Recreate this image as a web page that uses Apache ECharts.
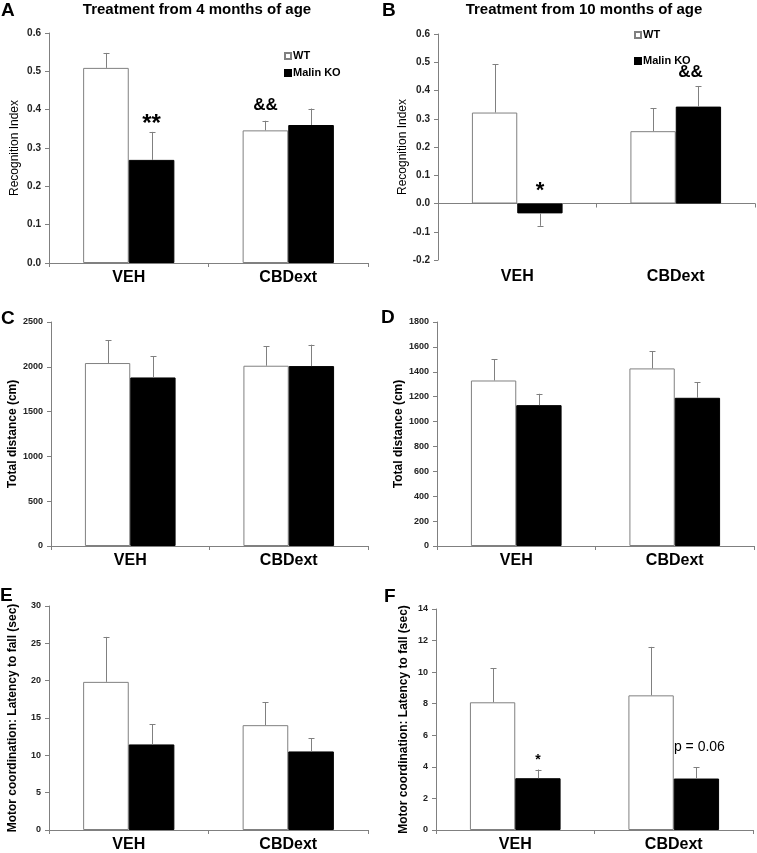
<!DOCTYPE html>
<html><head><meta charset="utf-8">
<script src="https://cdn.jsdelivr.net/npm/echarts@6/dist/echarts.min.js"></script>
<style>html,body{margin:0;padding:0;background:#fff}#c{width:757px;height:853px}</style>
</head><body><div id="c"></div>
<script>
// ---------------- data ----------------
const categories = ['VEH', 'CBDext'];
const seriesNames = ['WT', 'Malin KO'];

// Panel A: Recognition Index, treatment from 4 months
const wtA = [0.509, 0.346], wtAErr = [0.039, 0.025];
const koA = [0.269, 0.360], koAErr = [0.073, 0.043];
const ticksA = [0.0, 0.1, 0.2, 0.3, 0.4, 0.5, 0.6];
const annA = [{cat: 0, grp: 1, text: '**'}, {cat: 1, grp: 0, text: '&&'}];

// Panel B: Recognition Index, treatment from 10 months
const wtB = [0.322, 0.256], wtBErr = [0.171, 0.082];
const koB = [-0.035, 0.343], koBErr = [0.044, 0.073];
const ticksB = [-0.2, -0.1, 0.0, 0.1, 0.2, 0.3, 0.4, 0.5, 0.6];
const annB = [{cat: 0, grp: 1, text: '*'}, {cat: 1, grp: 1, text: '&&'}];

// Panel C: Total distance (cm)
const wtC = [2042, 2012], wtCErr = [253, 216];
const koC = [1881, 2008], koCErr = [235, 239];
const ticksC = [0, 500, 1000, 1500, 2000, 2500];

// Panel D: Total distance (cm)
const wtD = [1330, 1427], wtDErr = [169, 139];
const koD = [1132, 1191], koDErr = [91, 126];
const ticksD = [0, 200, 400, 600, 800, 1000, 1200, 1400, 1600, 1800];

// Panel E: Latency to fall (sec)
const wtE = [19.84, 14.04], wtEErr = [6.02, 3.08];
const koE = [11.46, 10.52], koEErr = [2.72, 1.78];
const ticksE = [0, 5, 10, 15, 20, 25, 30];

// Panel F: Latency to fall (sec)
const wtF = [8.09, 8.53], wtFErr = [2.15, 3.07];
const koF = [3.28, 3.26], koFErr = [0.55, 0.71];
const ticksF = [0, 2, 4, 6, 8, 10, 12, 14];
const annF = [{cat: 0, grp: 1, text: '*'}, {cat: 1, grp: 1, text: 'p = 0.06'}];

const panelLetters = ['A', 'B', 'C', 'D', 'E', 'F'];
const panelTitles = ['Treatment from 4 months of age', 'Treatment from 10 months of age'];
const yNames = ['Recognition Index', 'Total distance (cm)', 'Motor coordination: Latency to fall (sec)'];

// ---------------- layout / style ----------------
const FF = '"Liberation Sans", Arial, sans-serif';
const NF = '"Liberation Sans Narrow", "Liberation Sans", Arial, sans-serif';
const GRAY = '#808080';

const panels = [
  {wt: wtA, wtE: wtAErr, ko: koA, koE: koAErr, ticks: ticksA, dec: 1, name: yNames[0], nameW: 'normal', nameGap: 28,
   grid: {left: 49, top: 33, width: 319, height: 230}, ann: annA,
   annStyle: [{font: 'bold 24px ' + FF, gap: 8, dx: 0}, {font: 'bold 17px ' + FF, gap: 15, dx: 0}], tickFs: 10},
  {wt: wtB, wtE: wtBErr, ko: koB, koE: koBErr, ticks: ticksB, dec: 1, name: yNames[0], nameW: 'normal', nameGap: 28,
   grid: {left: 438, top: 34, width: 317, height: 226}, ann: annB, zeroLine: true,
   annStyle: [{font: 'bold 22px ' + FF, gap: 13, dx: 0}, {font: 'bold 17px ' + FF, gap: 14, dx: -8}], tickFs: 10},
  {wt: wtC, wtE: wtCErr, ko: koC, koE: koCErr, ticks: ticksC, dec: 0, name: yNames[1], nameW: 'bold', nameGap: 30,
   grid: {left: 51, top: 322, width: 317, height: 224}, tickFs: 9},
  {wt: wtD, wtE: wtDErr, ko: koD, koE: koDErr, ticks: ticksD, dec: 0, name: yNames[1], nameW: 'bold', nameGap: 30,
   grid: {left: 437, top: 322, width: 317, height: 224}, tickFs: 9},
  {wt: wtE, wtE: wtEErr, ko: koE, koE: koEErr, ticks: ticksE, dec: 0, name: yNames[2], nameW: 'bold', nameGap: 30,
   grid: {left: 49, top: 606, width: 319, height: 224}, tickFs: 9},
  {wt: wtF, wtE: wtFErr, ko: koF, koE: koFErr, ticks: ticksF, dec: 0, name: yNames[2], nameW: 'bold', nameGap: 26,
   grid: {left: 436, top: 609, width: 317, height: 222}, ann: annF,
   annStyle: [{font: 'bold 14px ' + FF, gap: 9, dx: 0}, {font: '14px ' + FF, gap: 20, dx: 3}], tickFs: 9}
];

const BAR_FRAC = 0.286;
const grids = [], xAxes = [], yAxes = [], series = [];

panels.forEach((p, i) => {
  grids.push(Object.assign({containLabel: false}, p.grid));
  const xMain = xAxes.length;
  xAxes.push({
    type: 'category', gridIndex: i, data: categories,
    axisLine: {show: true, onZero: !!p.zeroLine, lineStyle: {color: GRAY, width: 1}},
    axisTick: {show: true, length: 4, inside: false, lineStyle: {color: GRAY}},
    axisLabel: {show: !p.zeroLine, fontFamily: FF, fontWeight: 'bold', fontSize: 16, color: '#000', margin: 7},
    splitLine: {show: false}
  });
  if (p.zeroLine) {
    xAxes.push({
      type: 'category', gridIndex: i, data: categories, position: 'bottom',
      axisLine: {show: false, onZero: false}, axisTick: {show: false},
      axisLabel: {show: true, fontFamily: FF, fontWeight: 'bold', fontSize: 16, color: '#000', margin: 9},
      splitLine: {show: false}
    });
  }
  const t = p.ticks;
  yAxes.push({
    type: 'value', gridIndex: i, min: t[0], max: t[t.length - 1], interval: t[1] - t[0],
    axisLine: {show: true, lineStyle: {color: GRAY, width: 1}},
    axisTick: {show: true, length: 4, lineStyle: {color: GRAY}},
    splitLine: {show: false},
    axisLabel: {fontFamily: NF, fontWeight: 'bold', fontSize: p.tickFs, color: '#222', margin: 8,
      formatter: v => (Math.abs(v) < 1e-9 ? 0 : v).toFixed(p.dec)},
    name: p.name, nameLocation: 'middle', nameGap: p.nameGap, nameRotate: 90,
    nameTextStyle: {fontFamily: FF, fontWeight: p.nameW, fontSize: 12, color: '#000'}
  });
  series.push({
    type: 'bar', name: seriesNames[0], xAxisIndex: xMain, yAxisIndex: i, data: p.wt,
    barWidth: (BAR_FRAC * 100) + '%', barGap: '0%',
    itemStyle: {color: '#fff', borderColor: GRAY, borderWidth: 1}, silent: true
  });
  series.push({
    type: 'bar', name: seriesNames[1], xAxisIndex: xMain, yAxisIndex: i, data: p.ko,
    barWidth: (BAR_FRAC * 100) + '%', barGap: '0%',
    itemStyle: {color: '#000', borderColor: '#000', borderWidth: 1}, silent: true
  });
  // error bars
  const errData = [];
  [p.wt, p.ko].forEach((arr, g) => {
    const ee = g === 0 ? p.wtE : p.koE;
    arr.forEach((m, c) => errData.push([c, m, ee[c], g]));
  });
  series.push({
    type: 'custom', name: 'err' + i, xAxisIndex: xMain, yAxisIndex: i, data: errData, z: 5, silent: true,
    encode: {x: 0, y: 1},
    renderItem: (params, api) => {
      const c = api.value(0), m = api.value(1), e = api.value(2), g = api.value(3);
      const end = m >= 0 ? m + e : m - e;
      const p0 = api.coord([c, m]), p1 = api.coord([c, end]);
      const band = api.size([1, 0])[0];
      const cx = Math.round(p0[0] + (g === 0 ? -1 : 1) * BAR_FRAC / 2 * band) + 0.5;
      const st = {stroke: GRAY, lineWidth: 1};
      return {type: 'group', children: [
        {type: 'line', shape: {x1: cx, y1: p0[1], x2: cx, y2: p1[1]}, style: st},
        {type: 'line', shape: {x1: cx - 3, y1: Math.round(p1[1]) + 0.5, x2: cx + 3, y2: Math.round(p1[1]) + 0.5}, style: st}
      ]};
    }
  });
  // annotations
  if (p.ann) {
    const annData = p.ann.map((a, k) => {
      const m = (a.grp === 0 ? p.wt : p.ko)[a.cat];
      const e = (a.grp === 0 ? p.wtE : p.koE)[a.cat];
      return [a.cat, m >= 0 ? m + e : 0, a.grp, k];
    });
    series.push({
      type: 'custom', name: 'ann' + i, xAxisIndex: xMain, yAxisIndex: i, data: annData, z: 6, silent: true,
      encode: {x: 0, y: 1},
      renderItem: (params, api) => {
        const c = api.value(0), v = api.value(1), g = api.value(2), k = api.value(3);
        const pt = api.coord([c, v]);
        const band = api.size([1, 0])[0];
        const s = p.annStyle[k];
        const cx = pt[0] + (g === 0 ? -1 : 1) * BAR_FRAC / 2 * band + s.dx;
        return {type: 'text', x: cx, y: pt[1] - s.gap,
          style: {text: p.ann[k].text, font: s.font, fill: '#000', align: 'center', verticalAlign: 'middle',
            textAlign: 'center', textVerticalAlign: 'middle'}};
      }
    });
  }
});

// titles and letters
const letterPos = [[1, 11], [382, 11], [1, 319], [381, 318], [0, 596], [384, 597]];
const graphics = panelLetters.map((L, i) => ({
  type: 'text', x: letterPos[i][0], y: letterPos[i][1],
  style: {text: L, font: 'bold 19px ' + FF, fill: '#000', align: 'left', verticalAlign: 'middle',
    textAlign: 'left', textVerticalAlign: 'middle'}
}));
const titlePos = [[197, 10], [584, 10]];
panelTitles.forEach((T, i) => graphics.push({
  type: 'text', x: titlePos[i][0], y: titlePos[i][1],
  style: {text: T, font: 'bold 15px ' + FF, fill: '#000', align: 'center', verticalAlign: 'middle',
    textAlign: 'center', textVerticalAlign: 'middle'}
}));

const legendCommon = {
  data: seriesNames, orient: 'vertical', icon: 'rect', itemWidth: 6, itemHeight: 6,
  selectedMode: false,
  textStyle: {fontFamily: NF, fontWeight: 'bold', fontSize: 11, color: '#000', lineHeight: 12, padding: [0, 0, 0, -3]}
};

const chart = echarts.init(document.getElementById('c'), null, {renderer: 'canvas'});
chart.setOption({
  animation: false,
  backgroundColor: '#fff',
  grid: grids, xAxis: xAxes, yAxis: yAxes, series: series,
  legend: [
    Object.assign({}, legendCommon, {left: 279, top: 45, itemGap: 5}),
    Object.assign({}, legendCommon, {left: 629, top: 24, itemGap: 14})
  ],
  graphic: graphics
});
</script></body></html>
